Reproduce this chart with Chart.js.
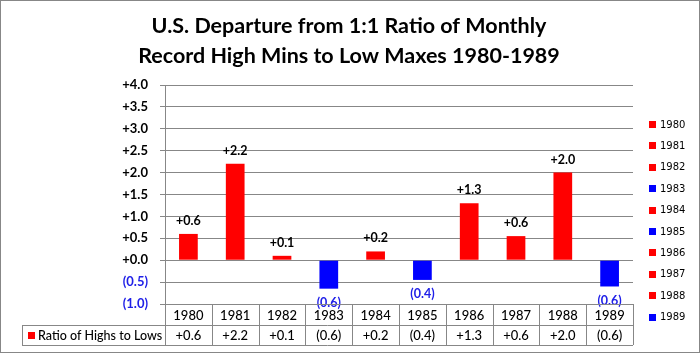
<!DOCTYPE html>
<html>
<head>
<meta charset="utf-8">
<script src="https://cdn.jsdelivr.net/npm/chart.js@4/dist/chart.umd.min.js"></script>
<style>
body { margin: 0; background: #fff; }
canvas { display: block; }
</style>
</head>
<body>
<canvas id="myChart" width="700" height="353"></canvas>
<script>
const titleLines = ["U.S. Departure from 1:1 Ratio of Monthly", "Record High Mins to Low Maxes 1980-1989"];
const years = ["1980", "1981", "1982", "1983", "1984", "1985", "1986", "1987", "1988", "1989"];
const ratio = [0.6, 2.2, 0.1, -0.65, 0.2, -0.45, 1.3, 0.55, 2.0, -0.6];
const valueLabels = ["+0.6", "+2.2", "+0.1", "(0.6)", "+0.2", "(0.4)", "+1.3", "+0.6", "+2.0", "(0.6)"];
const seriesName = "Ratio of Highs to Lows";

const RED = "#FF0000";
const BLUE = "#0000FF";
const TEXT_BLUE = "#2020E8";
const LINE = "#878787";
const FONT = "Lato, 'Open Sans', sans-serif";

const barColors = ratio.map(v => v < 0 ? BLUE : RED);

function fmt(v) {
    return v < 0 ? "(" + (-v).toFixed(1) + ")" : "+" + v.toFixed(1);
}

// everything Excel draws around the plot: title, legend, data table, labels
const extras = {
    id: "extras",
    afterDraw(chart) {
        const ctx = chart.ctx;
        const area = chart.chartArea;
        const x = chart.scales.x;
        const meta = chart.getDatasetMeta(0);
        ctx.save();

        // title
        ctx.fillStyle = "#000";
        ctx.textAlign = "center";
        ctx.textBaseline = "alphabetic";
        ctx.font = "bold 21.5px " + FONT;
        ctx.fillText(titleLines[0], 349, 33);
        ctx.fillText(titleLines[1], 349, 63);

        // data labels
        ctx.font = "bold 12.5px " + FONT;
        ctx.textBaseline = "middle";
        meta.data.forEach((bar, i) => {
            if (ratio[i] >= 0) {
                ctx.fillStyle = "#000";
                ctx.fillText(valueLabels[i], bar.x, bar.y - 13);
            } else {
                ctx.fillStyle = TEXT_BLUE;
                ctx.fillText(valueLabels[i], bar.x, bar.y + 14);
            }
        });

        // data table
        const row1 = area.bottom, row2 = area.bottom + 21, row3 = area.bottom + 41;
        const step = (area.right - area.left) / years.length;
        ctx.strokeStyle = LINE;
        ctx.lineWidth = 1;
        ctx.beginPath();
        for (let i = 0; i <= years.length; i++) {
            const lx = Math.round(area.left + i * step) + 0.5;
            ctx.moveTo(lx, row1);
            ctx.lineTo(lx, row3);
        }
        ctx.moveTo(area.left, row1 + 0.5);
        ctx.lineTo(area.right, row1 + 0.5);
        ctx.moveTo(22, row2 + 0.5);
        ctx.lineTo(area.right, row2 + 0.5);
        ctx.moveTo(22, row3 + 0.5);
        ctx.lineTo(area.right, row3 + 0.5);
        ctx.moveTo(22.5, row2);
        ctx.lineTo(22.5, row3);
        ctx.stroke();

        ctx.font = "500 13px " + FONT;
        ctx.fillStyle = "#000";
        years.forEach((yr, i) => {
            const cx = x.getPixelForValue(i);
            ctx.fillText(yr, cx, (row1 + row2) / 2 + 1);
            ctx.fillText(valueLabels[i], cx, (row2 + row3) / 2 + 1);
        });
        ctx.fillStyle = RED;
        ctx.fillRect(28, row2 + 7, 7, 7);
        ctx.fillStyle = "#000";
        ctx.textAlign = "left";
        ctx.font = "500 12.5px " + FONT;
        ctx.fillText(seriesName, 38, (row2 + row3) / 2 + 1);

        // legend on the right
        ctx.font = "10px 'DejaVu Sans', sans-serif";
        years.forEach((yr, i) => {
            const ly = 124 + i * 21.4;
            ctx.fillStyle = barColors[i];
            ctx.fillRect(649, Math.round(ly) - 3, 7, 7);
            ctx.fillStyle = "#000";
            ctx.fillText(yr, 660, ly + 1);
        });

        // outer border
        ctx.strokeStyle = LINE;
        ctx.strokeRect(0.5, 0.5, chart.width - 1, chart.height - 1);
        ctx.restore();
    }
};

const data = {
    labels: years,
    datasets: [{
        label: seriesName,
        data: ratio,
        backgroundColor: barColors,
        borderWidth: 0,
        categoryPercentage: 1,
        barPercentage: 0.4
    }]
};

const config = {
    type: "bar",
    data,
    options: {
        responsive: false,
        animation: false,
        layout: {
            padding: { top: 85, bottom: 49, left: 115, right: 67 }
        },
        plugins: {
            legend: { display: false },
            title: { display: false },
            tooltip: { enabled: false }
        },
        scales: {
            x: { display: false },
            y: {
                min: -1,
                max: 4,
                afterFit(scale) { scale.width = 50; },
                border: { display: true, color: LINE },
                grid: { color: LINE, tickLength: 5 },
                ticks: {
                    stepSize: 0.5,
                    padding: 12,
                    font: { family: FONT, size: 13, weight: "bold" },
                    color: (c) => c.tick && c.tick.value < 0 ? TEXT_BLUE : "#000",
                    callback: (v) => fmt(v)
                }
            }
        }
    },
    plugins: [extras]
};

const ctx = document.getElementById("myChart");
let myChart = new Chart(ctx, config);
</script>
</body>
</html>
